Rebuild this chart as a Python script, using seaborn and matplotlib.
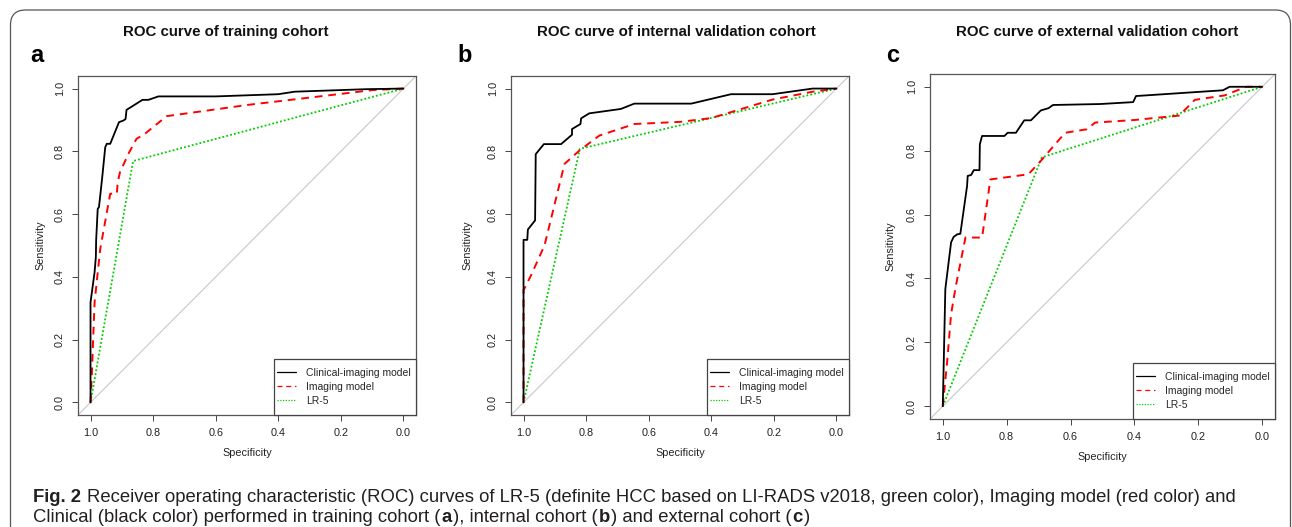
import matplotlib
matplotlib.use('Agg')
import matplotlib.pyplot as plt
from matplotlib.patches import FancyBboxPatch, Rectangle
from matplotlib.lines import Line2D
import seaborn as sns
import pandas as pd

# ROC points (specificity, sensitivity)
spec_a_clin = [1.0, 1.0, 0.987, 0.983, 0.982, 0.977, 0.973, 0.962, 0.953, 0.948, 0.937, 0.909, 0.895,
               0.888, 0.885, 0.834, 0.815, 0.783, 0.60, 0.40, 0.348, 0.12, 0.0]
sens_a_clin = [0.0, 0.319, 0.415, 0.463, 0.516, 0.617, 0.622, 0.723, 0.813, 0.824, 0.824, 0.893, 0.898,
               0.903, 0.932, 0.964, 0.964, 0.975, 0.975, 0.982, 0.99, 0.998, 1.0]
spec_a_img = [1.0, 0.996, 0.987, 0.969, 0.937, 0.916, 0.913, 0.906, 0.879, 0.853, 0.826, 0.757, 0.497, 0.2, 0.1, 0.0]
sens_a_img = [0.0, 0.086, 0.319, 0.489, 0.665, 0.665, 0.702, 0.733, 0.792, 0.840, 0.856, 0.912, 0.948, 0.983, 0.995, 1.0]
spec_a_lr5 = [1.0, 0.864, 0.0]
sens_a_lr5 = [0.0, 0.769, 1.0]

spec_b_clin = [1.0, 1.0, 0.988, 0.986, 0.963, 0.961, 0.935, 0.880, 0.845, 0.845, 0.818, 0.816, 0.790,
               0.689, 0.646, 0.464, 0.337, 0.204, 0.076, 0.0]
sens_b_clin = [0.0, 0.518, 0.518, 0.551, 0.580, 0.791, 0.823, 0.823, 0.853, 0.871, 0.887, 0.905, 0.921,
               0.935, 0.952, 0.952, 0.982, 0.982, 1.0, 1.0]
spec_b_img = [1.0, 1.0, 0.976, 0.933, 0.869, 0.822, 0.758, 0.646, 0.498, 0.40, 0.204, 0.076, 0.0]
sens_b_img = [0.0, 0.357, 0.405, 0.500, 0.760, 0.802, 0.850, 0.887, 0.894, 0.906, 0.965, 0.99, 1.0]
spec_b_lr5 = [1.0, 0.82, 0.0]
sens_b_lr5 = [0.0, 0.808, 1.0]

spec_c_clin = [1.0, 0.992, 0.974, 0.966, 0.955, 0.945, 0.924, 0.922, 0.911, 0.903, 0.885, 0.884, 0.877,
               0.807, 0.797, 0.771, 0.745, 0.724, 0.693, 0.669, 0.655, 0.507, 0.404, 0.395, 0.123, 0.102, 0.0]
sens_c_clin = [0.0, 0.367, 0.513, 0.530, 0.538, 0.540, 0.689, 0.721, 0.724, 0.739, 0.739, 0.820, 0.846,
               0.846, 0.856, 0.856, 0.895, 0.895, 0.926, 0.933, 0.943, 0.946, 0.952, 0.971, 0.989, 1.0, 1.0]
spec_c_img = [1.0, 0.986, 0.974, 0.960, 0.929, 0.877, 0.851, 0.732, 0.695, 0.617, 0.549, 0.523, 0.40,
              0.258, 0.245, 0.211, 0.118, 0.05, 0.0]
sens_c_img = [0.0, 0.143, 0.288, 0.372, 0.528, 0.528, 0.710, 0.726, 0.766, 0.856, 0.867, 0.888, 0.896,
              0.910, 0.925, 0.959, 0.973, 1.0, 1.0]
spec_c_lr5 = [1.0, 0.69, 0.0]
sens_c_lr5 = [0.0, 0.779, 1.0]

titles = ['ROC curve of training cohort', 'ROC curve of internal validation cohort',
          'ROC curve of external validation cohort']
letters = ['a', 'b', 'c']
models = ['Clinical-imaging model', 'Imaging model', 'LR-5']
ticks = [0.0, 0.2, 0.4, 0.6, 0.8, 1.0]

panels = [
    [(spec_a_clin, sens_a_clin), (spec_a_img, sens_a_img), (spec_a_lr5, sens_a_lr5)],
    [(spec_b_clin, sens_b_clin), (spec_b_img, sens_b_img), (spec_b_lr5, sens_b_lr5)],
    [(spec_c_clin, sens_c_clin), (spec_c_img, sens_c_img), (spec_c_lr5, sens_c_lr5)],
]

sns.set_style('white')
plt.rcParams['font.family'] = ['Liberation Sans', 'DejaVu Sans']

W, H = 1292, 527
fig = plt.figure(figsize=(W / 100, H / 100), dpi=100)

colors = ['black', '#ff0000', '#00cd00']
styles = ['-', (0, (4, 3)), (0, (1, 1.2))]
widths = [1.3, 1.4, 1.3]

# axes boxes in pixels: left, top, right, bottom
boxes = [(78, 76, 416, 415), (511, 76, 849, 415), (930, 74, 1275, 419)]
title_x = [226, 676, 1097]
letter_x = [30, 457, 886]
ylab_off = [33, 39, 35]
leg_w, leg_h = 142, 56

for i, (l, t, r, b) in enumerate(boxes):
    bw, bh = r - l, b - t
    ax = fig.add_axes([l / W, 1 - b / H, bw / W, bh / H])
    ax.axline((1, 0), (0, 1), color='#c8c8c8', lw=0.8, zorder=1)
    for j, (sp, se) in enumerate(panels[i]):
        df = pd.DataFrame({'Specificity': sp, 'Sensitivity': se})
        sns.lineplot(data=df, x='Specificity', y='Sensitivity', sort=False, estimator=None,
                     color=colors[j], linestyle=styles[j], lw=widths[j], ax=ax, zorder=3 - j)
    ax.set_xlim(1.04, -0.04)
    ax.set_ylim(-0.04, 1.04)
    ax.set_xticks(ticks)
    ax.set_yticks(ticks)
    ax.set_xticklabels([f'{v:.1f}' for v in ticks])
    ax.set_yticklabels([f'{v:.1f}' for v in ticks], rotation=90, va='center')
    ax.tick_params(axis='both', direction='out', length=4.3, width=0.7, color='#444444',
                   labelsize=7.8, labelcolor='#222222', pad=5, bottom=True, left=True)
    for s in ax.spines.values():
        s.set_color('#555555')
        s.set_linewidth(0.9)
    ax.set_xlabel('Specificity', fontsize=7.8, color='#222222')
    ax.set_ylabel('Sensitivity', fontsize=7.8, color='#222222')
    ax.xaxis.set_label_coords(0.5, -33 / bh)
    ax.yaxis.set_label_coords(-ylab_off[i] / bw, 0.5)

    # legend box drawn as a plain rectangle, entries placed inside
    ax.add_patch(Rectangle((1 - leg_w / bw, 0), leg_w / bw, leg_h / bh, transform=ax.transAxes,
                           facecolor='white', edgecolor='#444444', lw=0.9, zorder=5, clip_on=False))
    handles = [Line2D([], [], color=colors[k], linestyle=styles[k], lw=0.9) for k in range(3)]
    leg = ax.legend(handles, models, loc='upper left',
                    bbox_to_anchor=(1 - (leg_w - 3) / bw, (leg_h - 9) / bh),
                    borderaxespad=0, borderpad=0, frameon=False, fontsize=7.5,
                    handlelength=1.8, handletextpad=0.95, labelspacing=0.36)
    leg.set_zorder(6)
    fig.text(title_x[i] / W, 1 - 32 / H, titles[i], ha='center', va='center',
             fontsize=10.8, fontweight='bold', color='#111111')
    fig.text(letter_x[i] / W, 1 - 55 / H, letters[i], ha='left', va='center',
             fontsize=17, fontweight='bold', color='black')

# rounded frame around the figure
frame = FancyBboxPatch((0.105, -0.5), 12.80, 5.67, boxstyle='round,pad=0,rounding_size=0.15',
                       transform=fig.dpi_scale_trans, fill=False, edgecolor='#555555', lw=0.9)
fig.patches.append(frame)

# caption
cap_font = ['Liberation Sans Narrow', 'Liberation Sans', 'DejaVu Sans']
renderer = fig.canvas.get_renderer()
line1 = 'Receiver operating characteristic (ROC) curves of LR-5 (definite HCC based on LI-RADS v2018, green color), Imaging model (red color) and'
trial = fig.text(0, 0, line1, fontsize=12, family=cap_font)
tw = trial.get_window_extent(renderer).width
trial.remove()
cap_size = 12 * (1240 - 87) / tw


def put_line(x_px, y_px, pieces):
    x = x_px
    for txt, bold in pieces:
        tx = fig.text(x / W, 1 - y_px / H, txt, fontsize=cap_size, family=cap_font,
                      fontweight='bold' if bold else 'normal', color='#231f20',
                      ha='left', va='baseline')
        x += tx.get_window_extent(renderer).width + 1


put_line(33, 501.5, [('Fig. 2', True)])
put_line(87, 501.5, [(line1, False)])
put_line(33, 521.5, [('Clinical (black color) performed in training cohort (', False), ('a', True),
                     ('), internal cohort (', False), ('b', True), (') and external cohort (', False),
                     ('c', True), (')', False)])

fig.savefig('out.png', dpi=100)
